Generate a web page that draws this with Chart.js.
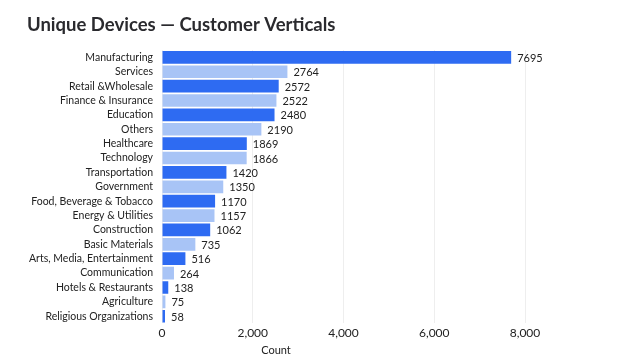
<!DOCTYPE html>
<html>
<head>
<meta charset="utf-8">
<script src="https://cdn.jsdelivr.net/npm/chart.js@4"></script>
<style>
  html, body { margin: 0; padding: 0; background: #fff; }
  #wrap { width: 623px; height: 358px; }
</style>
</head>
<body>
<div id="wrap"><canvas id="verticalsChart" width="623" height="358"></canvas></div>
<script>
const verticals = [
    'Manufacturing', 'Services', 'Retail &Wholesale', 'Finance & Insurance', 'Education',
    'Others', 'Healthcare', 'Technology', 'Transportation', 'Government',
    'Food, Beverage & Tobacco', 'Energy & Utilities', 'Construction', 'Basic Materials',
    'Arts, Media, Entertainment', 'Communication', 'Hotels & Restaurants', 'Agriculture',
    'Religious Organizations'
];
const deviceCounts = [7695, 2764, 2572, 2522, 2480, 2190, 1869, 1866, 1420, 1350,
    1170, 1157, 1062, 735, 516, 264, 138, 75, 58];
const xTicks = [0, 2000, 4000, 6000, 8000];

const darkBlue = '#2e6bf2';
const lightBlue = '#a8c4f6';
const barColors = deviceCounts.map((v, i) => i % 2 === 0 ? darkBlue : lightBlue);

const fontFamily = 'Lato, "Open Sans", sans-serif';

// writes the count just past the end of each bar
const valueLabels = {
    id: 'valueLabels',
    afterDatasetsDraw(chart) {
        const ctx = chart.ctx;
        const meta = chart.getDatasetMeta(0);
        ctx.save();
        ctx.font = '11px ' + fontFamily;
        ctx.fillStyle = '#222';
        ctx.textAlign = 'left';
        ctx.textBaseline = 'middle';
        meta.data.forEach((bar, i) => {
            ctx.fillText(String(deviceCounts[i]), bar.x + 6, bar.y + 1);
        });
        ctx.restore();
    }
};

new Chart(document.getElementById('verticalsChart').getContext('2d'), {
    type: 'bar',
    data: {
        labels: verticals,
        datasets: [{
            data: deviceCounts,
            backgroundColor: barColors,
            borderWidth: 0,
            barPercentage: 0.88,
            categoryPercentage: 1.0,
            minBarLength: 3
        }]
    },
    options: {
        indexAxis: 'y',
        responsive: false,
        animation: false,
        layout: { padding: { left: 27, right: 98, top: 0, bottom: 1 } },
        plugins: {
            legend: { display: false },
            tooltip: { enabled: false },
            title: {
                display: true,
                text: 'Unique Devices \u2014 Customer Verticals',
                align: 'start',
                color: '#2a2a2e',
                font: { family: fontFamily, size: 18.5, weight: 'bold' },
                padding: { top: 14, bottom: 14 }
            },
            subtitle: {
                display: true,
                position: 'bottom',
                text: 'Count',
                color: '#222',
                font: { family: fontFamily, size: 11 },
                padding: { top: 0, bottom: 0 }
            }
        },
        scales: {
            x: {
                min: 0,
                max: 8000,
                afterBuildTicks(scale) {
                    scale.ticks = xTicks.map(v => ({ value: v }));
                },
                grid: { color: '#eeeeee', drawTicks: false },
                border: { display: false },
                ticks: {
                    color: '#222',
                    padding: 3,
                    font: { family: fontFamily, size: 12 },
                    callback: v => v.toLocaleString('en-US')
                }
            },
            y: {
                grid: { display: false },
                border: { display: false },
                afterFit(scale) { scale.width = 135; },
                ticks: {
                    color: '#222',
                    padding: 1,
                    autoSkip: false,
                    font: { family: fontFamily, size: 10.5 }
                }
            }
        }
    },
    plugins: [valueLabels]
});
</script>
</body>
</html>
